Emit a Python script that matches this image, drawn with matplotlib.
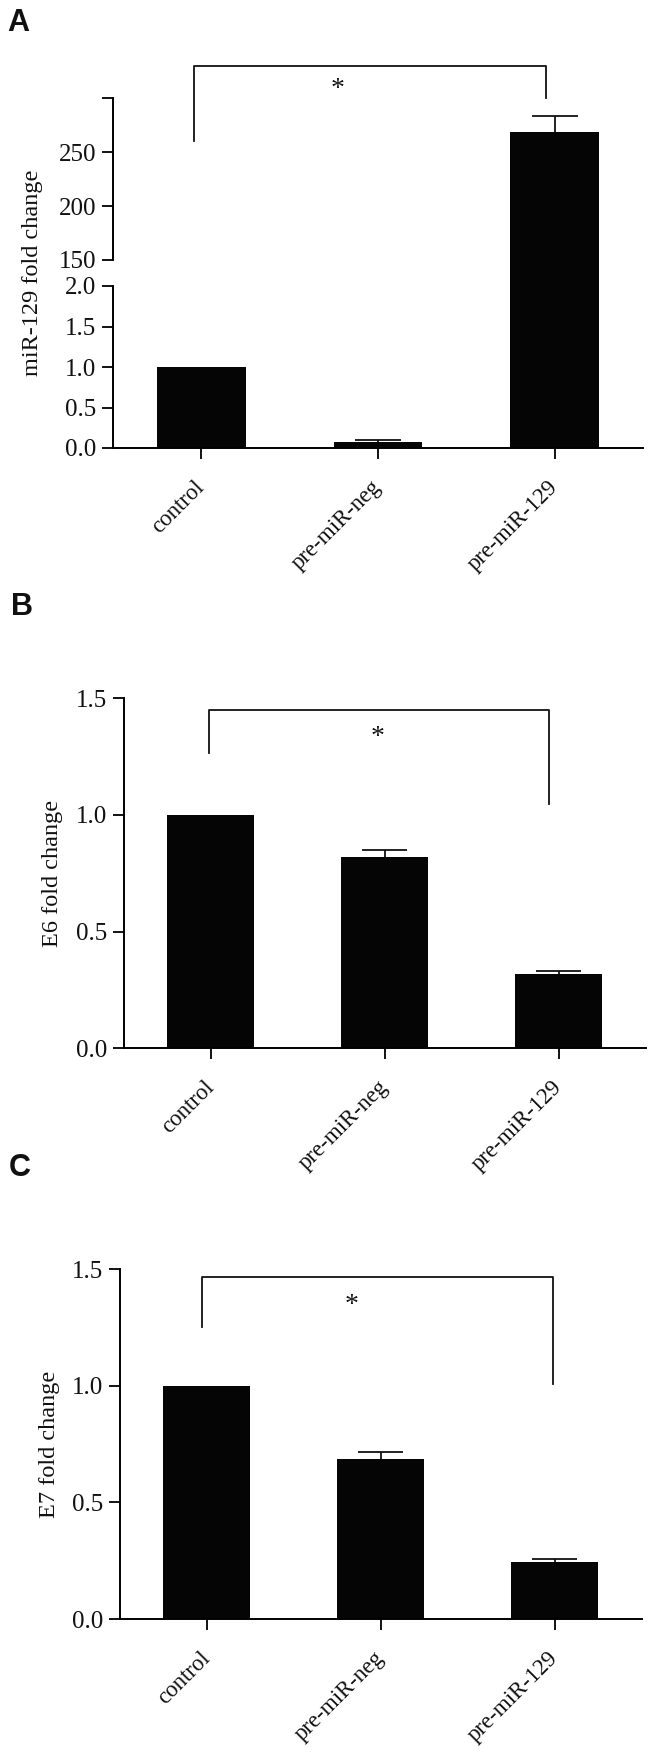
import matplotlib
matplotlib.use('Agg')
import matplotlib.pyplot as plt

groups = ['control', 'pre-miR-neg', 'pre-miR-129']

mir129_mean = [1.0, 0.07, 269.0]
mir129_err = [0.0, 0.025, 15.0]

e6_mean = [1.0, 0.82, 0.317]
e6_err = [0.0, 0.03, 0.014]

e7_mean = [1.0, 0.687, 0.245]
e7_err = [0.0, 0.03, 0.014]

lower_ticks = [0.0, 0.5, 1.0, 1.5, 2.0]
upper_ticks = [150, 200, 250, 300]
upper_labels = ['150', '200', '250', '']
fc_ticks = [0.0, 0.5, 1.0, 1.5]

plt.rcParams['font.family'] = ['Liberation Serif', 'DejaVu Serif']
plt.rcParams['axes.linewidth'] = 1.4

FIG_W, FIG_H = 652, 1752
TICK_FS = 18
XTICK_FS = 16.5
LABEL_FS = 17.5
INK = '#111111'


def rect(left, top, right, bottom):
    # pixel box -> figure fraction
    return [left / FIG_W, 1 - bottom / FIG_H, (right - left) / FIG_W, (bottom - top) / FIG_H]


def draw_bars(ax, means, errs, clip_tall=None):
    x = list(range(len(means)))
    bars = ax.bar(x, means, width=0.5, color='#050505', linewidth=0, zorder=2)
    # only the upper half of the error bar shows above the bar
    for i, (m, e) in enumerate(zip(means, errs)):
        if e > 0:
            ax.vlines(i, m, m + e, color=INK, lw=1.3, zorder=1)
            ax.hlines(m + e, i - 0.13, i + 0.13, color=INK, lw=1.3, zorder=1)
    if clip_tall is not None:
        # the tall bar runs on through the axis break
        for b, m in zip(bars, means):
            if m > clip_tall:
                b.set_clip_on(False)
    ax.set_xlim(-0.5, 2.5)
    return bars


def style_y(ax, ticks, labels):
    ax.set_yticks(ticks)
    ax.set_yticklabels(labels, fontsize=TICK_FS)
    ax.tick_params(axis='y', direction='out', length=8, width=1.4, pad=4, colors=INK)
    ax.spines['top'].set_visible(False)
    ax.spines['right'].set_visible(False)


def style_x(ax):
    ax.set_xticks(range(len(groups)))
    ax.set_xticklabels(groups, fontsize=XTICK_FS, rotation=45, ha='right', va='center',
                       rotation_mode='anchor')
    ax.tick_params(axis='x', direction='out', length=8, width=1.4, pad=18, colors=INK)


def bracket(ax, x0, x1, top, y0, y1, star_x, star_y):
    ax.plot([x0, x0, x1, x1], [y0, top, top, y1], color=INK, lw=1.3, clip_on=False)
    ax.text(star_x, star_y, '*', ha='center', va='center', fontsize=20, color=INK, clip_on=False)


fig = plt.figure(figsize=(FIG_W / 100, FIG_H / 100), dpi=100)

# ---- A: broken axis
ax_lo = fig.add_axes(rect(113, 286, 643, 448))
ax_hi = fig.add_axes(rect(113, 98.3, 643, 260))

draw_bars(ax_lo, mir129_mean, mir129_err)
draw_bars(ax_hi, mir129_mean, mir129_err, clip_tall=2.0)
ax_lo.set_ylim(0, 2.0)
ax_hi.set_ylim(150, 300)

style_y(ax_lo, lower_ticks, ['%.1f' % t for t in lower_ticks])
style_y(ax_hi, upper_ticks, upper_labels)
style_x(ax_lo)
ax_hi.spines['bottom'].set_visible(False)
ax_hi.set_xticks([])

# break marks
ax_lo.set_yticks([2.0], minor=True)
ax_hi.set_yticks([150], minor=True)
for a in (ax_lo, ax_hi):
    a.tick_params(axis='y', which='minor', direction='in', length=7, width=1.4, colors=INK)
    a.set_yticklabels([], minor=True)

bracket(ax_hi, -0.04, 1.95, 330, 260, 300, 0.77, 308)

# ---- B
ax_b = fig.add_axes(rect(124, 698.3, 645.7, 1048.3))
draw_bars(ax_b, e6_mean, e6_err)
ax_b.set_ylim(0, 1.5)
style_y(ax_b, fc_ticks, ['%.1f' % t for t in fc_ticks])
style_x(ax_b)
bracket(ax_b, -0.01, 1.946, 1.45, 1.267, 1.047, 0.96, 1.33)

# ---- C
ax_c = fig.add_axes(rect(120, 1269.3, 641.7, 1619))
draw_bars(ax_c, e7_mean, e7_err)
ax_c.set_ylim(0, 1.5)
style_y(ax_c, fc_ticks, ['%.1f' % t for t in fc_ticks])
style_x(ax_c)
bracket(ax_c, -0.03, 1.99, 1.468, 1.251, 1.008, 0.834, 1.345)

# y labels
fig.text(33 / FIG_W, 1 - 273 / FIG_H, 'miR-129 fold change', rotation=90, ha='center', va='center',
         fontsize=LABEL_FS, color=INK)
fig.text(53 / FIG_W, 1 - 873 / FIG_H, 'E6 fold change', rotation=90, ha='center', va='center',
         fontsize=LABEL_FS, color=INK)
fig.text(50 / FIG_W, 1 - 1444 / FIG_H, 'E7 fold change', rotation=90, ha='center', va='center',
         fontsize=LABEL_FS, color=INK)

# panel letters
for letter, px, py in [('A', 7, 23), ('B', 11, 607), ('C', 9, 1168)]:
    fig.text(px / FIG_W, 1 - py / FIG_H, letter, ha='left', va='center', fontsize=22,
             fontweight='bold', family=['Liberation Sans', 'DejaVu Sans'], color=INK)

fig.savefig('out.png', dpi=100, facecolor='white')
